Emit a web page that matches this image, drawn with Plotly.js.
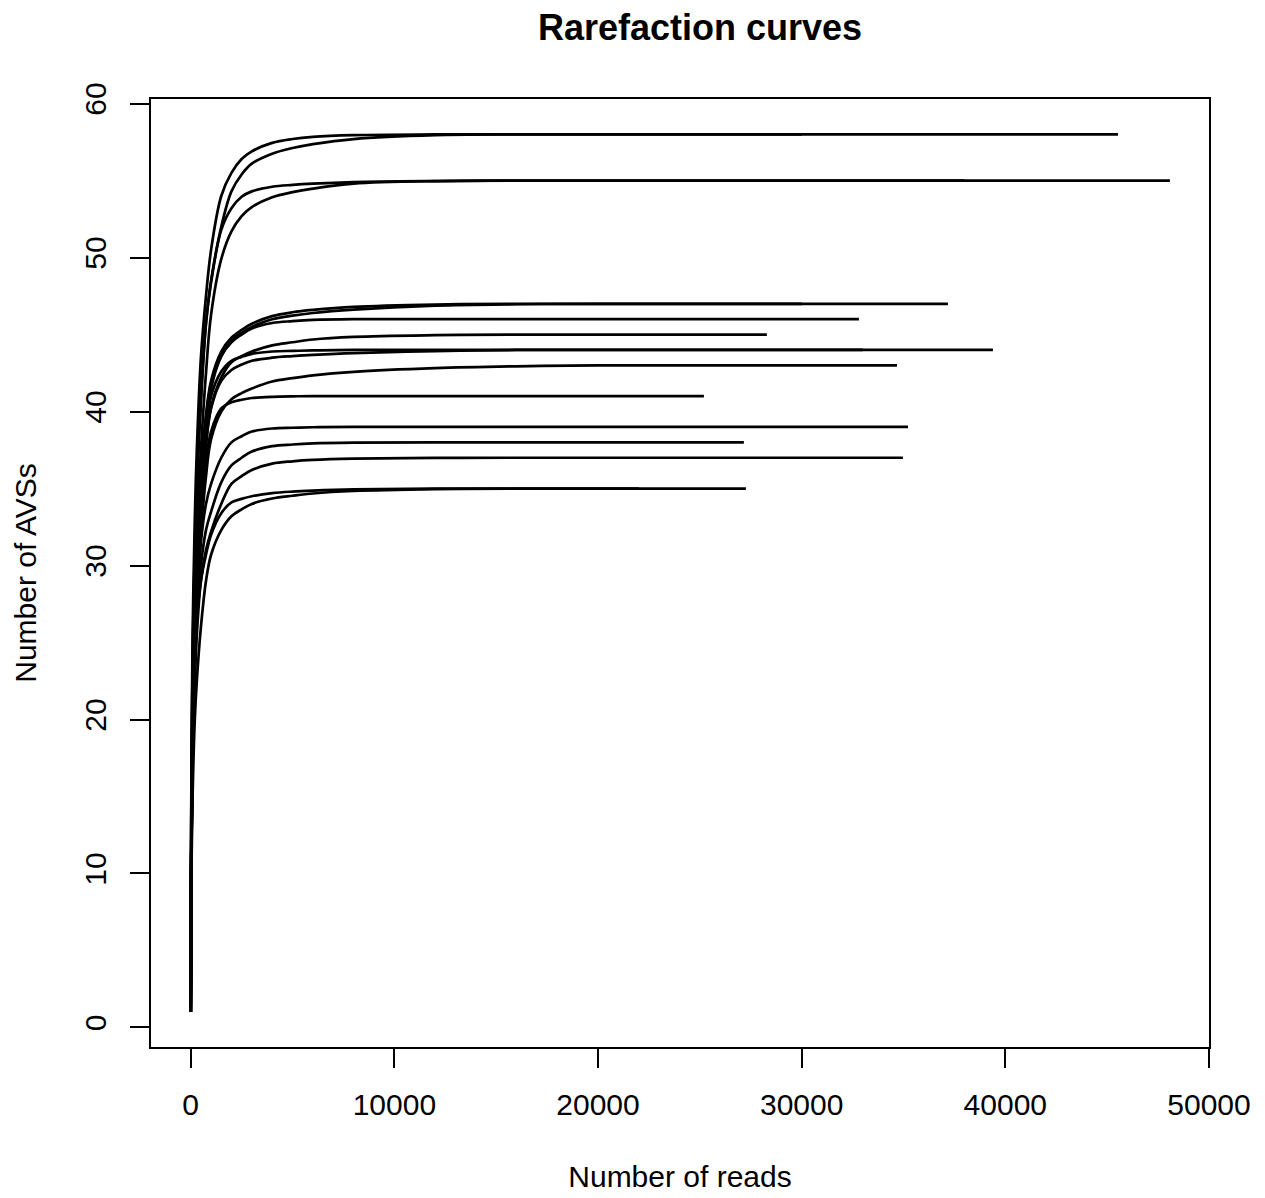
<!DOCTYPE html>
<html>
<head>
<meta charset="utf-8">
<script src="https://cdn.plot.ly/plotly-3.0.1.min.js"></script>
<style>html,body{margin:0;padding:0;background:#fff;}#chart{width:1265px;height:1198px;}</style>
</head>
<body>
<div id="chart"></div>
<script>
const readsGrid = [1, 25, 50, 100, 200, 300, 500, 750, 1000, 1500, 2000, 2500, 3000, 4000, 5000, 6000, 8000, 12000, 16000, 20000];

// Number of AVSs per sample at the subsample sizes above (until the plateau)
const s58a = [1, 14, 19, 26, 33, 37.5, 43.5, 47.5, 50.5, 54, 55.5, 56.4, 56.9, 57.45, 57.7, 57.84, 57.95, 58];
const s58b = [1, 13, 18, 24.5, 31, 35.5, 41, 45.8, 48.4, 52.0, 54.3, 55.4, 56.1, 56.75, 57.12, 57.37, 57.7, 57.95, 58];
const s55a = [1, 13, 17.5, 24, 30.5, 35, 40.5, 45.7, 48.5, 51.8, 53.2, 53.95, 54.3, 54.6, 54.72, 54.8, 54.9, 54.97, 55];
const s55b = [1, 12, 16.5, 22.5, 28.5, 32.5, 37.5, 42.5, 46.3, 49.9, 51.7, 52.7, 53.28, 53.92, 54.25, 54.48, 54.8, 54.97, 55];
const s47a = [1, 11, 15, 20.5, 26.5, 30.5, 36, 39.8, 42.0, 43.9, 44.8, 45.3, 45.7, 46.2, 46.45, 46.6, 46.8, 46.95, 47];
const s47b = [1, 10.5, 14.5, 20, 26, 30, 35, 39, 41.5, 43.6, 44.6, 45.1, 45.5, 46.0, 46.23, 46.4, 46.62, 46.88, 46.97, 47];
const s46  = [1, 11, 15, 20.5, 26.5, 30.5, 35.5, 39.5, 41.8, 43.6, 44.5, 45.0, 45.4, 45.75, 45.87, 45.95, 46];
const s45  = [1, 10.5, 14.5, 20, 25.5, 29.5, 34.5, 38, 40.3, 42.2, 43.2, 43.6, 43.9, 44.3, 44.5, 44.68, 44.85, 44.96, 45];
const s44a = [1, 11, 15, 20.5, 26.5, 30.5, 35.5, 38.8, 41.0, 42.6, 43.3, 43.55, 43.75, 43.9, 43.94, 43.97, 44];
const s44b = [1, 10.5, 14, 19.5, 25, 29, 34, 37.8, 40.2, 42.0, 42.7, 43.05, 43.3, 43.5, 43.6, 43.68, 43.8, 43.93, 44];
const s43  = [1, 10, 13.5, 18.5, 24, 27.5, 32, 35.8, 38.2, 40.0, 40.8, 41.2, 41.5, 41.95, 42.17, 42.35, 42.58, 42.82, 42.94, 43];
const s41  = [1, 10.5, 14, 19.5, 25, 29, 33.5, 36.8, 38.7, 40.2, 40.6, 40.77, 40.88, 40.96, 40.99, 41];
const s39  = [1, 10, 13.5, 18.5, 24, 27.5, 31.5, 34, 35.3, 37.0, 38.0, 38.4, 38.7, 38.9, 38.95, 38.98, 39];
const s38  = [1, 9.5, 13, 18, 23, 26.5, 30, 32.3, 33.5, 35.4, 36.5, 37.0, 37.4, 37.75, 37.86, 37.93, 37.98, 38];
const s37  = [1, 9.5, 13, 17.5, 22.5, 25.5, 29, 31, 32.2, 34.0, 35.3, 35.8, 36.2, 36.62, 36.77, 36.86, 36.94, 36.99, 37];
const s35a = [1, 10, 13.5, 18.5, 23.5, 26.5, 29, 30.7, 32.0, 33.4, 34.1, 34.33, 34.5, 34.7, 34.8, 34.86, 34.94, 34.99, 35];
const s35b = [1, 8.5, 11.5, 15.5, 20, 22.5, 26, 29, 30.7, 32.3, 33.2, 33.65, 34.0, 34.35, 34.53, 34.68, 34.84, 34.96, 35];

// Total reads of each sample (end of each curve), same order as the series list
const seriesList = [s58a, s58b, s55a, s55b, s47a, s47b, s46, s45, s44a, s44b, s43, s41, s39, s38, s37, s35a, s35b];
const totalReads = [45530, 30000, 48080, 38000, 37180, 30000, 32810, 28290, 39390, 33000, 34680, 25200, 35220, 27160, 34970, 27260, 22000];

// Axis ticks
const xTickVals = [0, 10000, 20000, 30000, 40000, 50000];
const xTickText = ['0', '10000', '20000', '30000', '40000', '50000'];
const yTickVals = [0, 10, 20, 30, 40, 50, 60];
const yTickText = ['0', '10', '20', '30', '40', '50', '60'];

const FONT = 'Liberation Sans, Arial, Helvetica, sans-serif';

const traces = seriesList.map(function (vals, i) {
  const n = vals.length;
  return {
    type: 'scatter',
    mode: 'lines',
    x: readsGrid.slice(0, n).concat([totalReads[i]]),
    y: vals.concat([vals[n - 1]]),
    line: {color: '#000000', width: 2.7, shape: 'spline', smoothing: 1.0},
    hoverinfo: 'skip',
    showlegend: false
  };
});

const axisCommon = {
  showgrid: false,
  zeroline: false,
  showline: true,
  linecolor: '#000000',
  linewidth: 2,
  mirror: true,
  ticks: 'outside',
  ticklen: 19,
  tickwidth: 2,
  tickcolor: '#000000',
  tickfont: {family: FONT, size: 30, color: '#000000'},
  automargin: false
};

const layout = {
  width: 1265,
  height: 1198,
  margin: {l: 151, r: 56, t: 99, b: 151, pad: 0},
  paper_bgcolor: '#ffffff',
  plot_bgcolor: '#ffffff',
  showlegend: false,
  title: {
    text: '<b>Rarefaction curves</b>',
    font: {family: FONT, size: 36, color: '#000000'},
    xref: 'container', x: 700 / 1265, xanchor: 'center',
    yref: 'container', y: 1 - 27 / 1198, yanchor: 'middle'
  },
  xaxis: Object.assign({}, axisCommon, {
    range: [-1950, 50000],
    tickmode: 'array',
    tickvals: xTickVals,
    ticktext: xTickText,
    ticklabelstandoff: 11,
    title: {text: 'Number of reads', font: {family: FONT, size: 30, color: '#000000'}, standoff: 46}
  }),
  yaxis: Object.assign({}, axisCommon, {
    range: [-1.27, 60.3],
    tickmode: 'array',
    tickvals: yTickVals,
    ticktext: yTickText,
    tickangle: -90,
    ticklabelstandoff: 12,
    title: {text: 'Number of AVSs', font: {family: FONT, size: 30, color: '#000000'}, standoff: 34}
  })
};

Plotly.newPlot('chart', traces, layout, {staticPlot: true, displayModeBar: false});
</script>
</body>
</html>
